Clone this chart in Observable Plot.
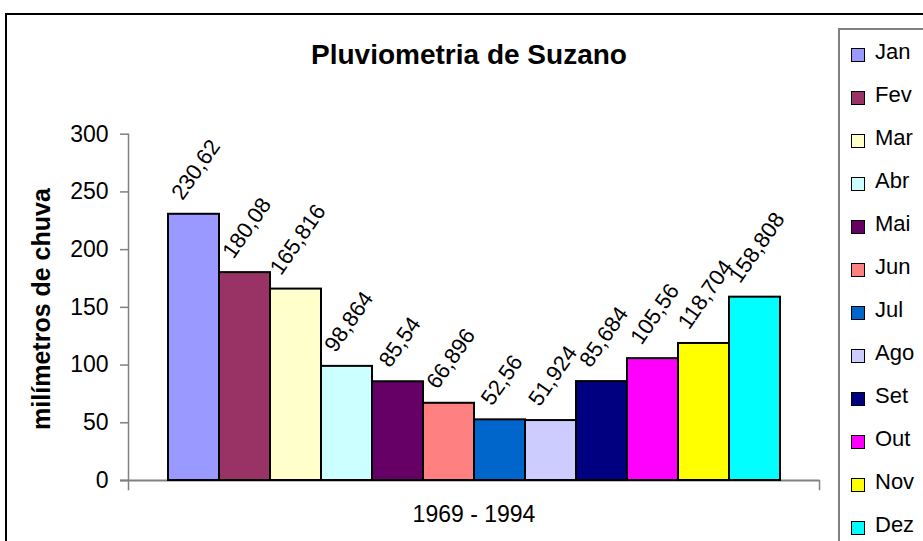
<!DOCTYPE html>
<html><head><meta charset="utf-8">
<script src="https://cdn.jsdelivr.net/npm/d3@7"></script>
<script src="https://cdn.jsdelivr.net/npm/@observablehq/plot@0.6"></script>
<style>
body{margin:0;background:#fff;font-family:Arial,"Liberation Sans",sans-serif;}
#wrap{position:relative;width:923px;height:541px;overflow:hidden;background:#fff}
#border{position:absolute;left:5px;top:13px;width:1000px;height:1000px;border:2px solid #000;}
#title{position:absolute;left:169px;width:600px;top:38px;text-align:center;font-weight:bold;font-size:28px;line-height:34px}
#ytitle{position:absolute;left:41px;top:309px;transform:translate(-50%,-50%) rotate(-90deg);font-weight:bold;font-size:25px;white-space:nowrap}
#chart{position:absolute;left:0;top:0}
#legend{position:absolute;left:838px;top:28px;width:200px;height:700px;border:2px solid #808080;background:#fff}
.item{height:43px;display:flex;align-items:center;font-size:22px}
.sw{width:12px;height:12px;border:1.5px solid #000;margin-left:11px;margin-right:10px;margin-top:6px;box-sizing:content-box}
</style></head>
<body>
<div id="wrap">
  <div id="border"></div>
  <div id="chart"></div>
  <div id="title"></div>
  <div id="ytitle"></div>
  <div id="legend"></div>
</div>
<script>
const months = ["Jan","Fev","Mar","Abr","Mai","Jun","Jul","Ago","Set","Out","Nov","Dez"];
const values = [230.62,180.08,165.816,98.864,85.54,66.896,52.56,51.924,85.684,105.56,118.704,158.808];
const colors = ["#9999FF","#993366","#FFFFCC","#CCFFFF","#660066","#FF8080","#0066CC","#CCCCFF","#000080","#FF00FF","#FFFF00","#00FFFF"];
const yTicks = [0,50,100,150,200,250,300];
const xCategory = "1969 - 1994";
const titleText = "Pluviometria de Suzano";
const yTitle = "milímetros de chuva";

const data = months.map((m,i)=>({month:m,value:values[i],label:String(values[i]).replace(".",",")}));

const W=923,H=541,mL=128,mR=104,mT=133.7,mB=61;
const fontSize=22, tickFont=23, angle=55;
function labelDx(s){
  const em=[...s].reduce((a,c)=>a+(c===","?0.278:0.556),0);
  return 2 - em*fontSize/2*Math.cos(angle*Math.PI/180);
}
const groups = d3.group(data, d=>d.label.length);
const labelMarks = Array.from(groups, ([n, arr]) => Plot.text(arr, {
  x:"month", y:"value", text:"label", rotate:-angle, textAnchor:"start",
  dx: labelDx(arr[0].label), dy:-17, fontSize, fill:"black"
}));

const chart = Plot.plot({
  width:W, height:H, marginLeft:mL, marginRight:mR, marginTop:mT, marginBottom:mB,
  style:{fontFamily:"Arial, 'Liberation Sans', sans-serif", color:"black", background:"transparent", overflow:"visible"},
  x:{type:"band", domain:months, padding:0, insetLeft:38, insetRight:38, axis:null},
  y:{domain:[0,300], axis:null},
  color:{domain:months, range:colors},
  marks:[
    Plot.ruleY([0], {stroke:"#808080", strokeWidth:2, insetLeft:-8}),
    Plot.frame({anchor:"left", stroke:"#808080", strokeWidth:1.5, insetBottom:-9}),
    Plot.frame({anchor:"right", stroke:"#808080", strokeWidth:1.5, insetTop:H-mT-mB, insetBottom:-9}),
    Plot.axisY(yTicks, {tickSize:8, tickPadding:12, fontSize:tickFont, stroke:"#808080", strokeWidth:1.5, fill:"black", label:null}),
    Plot.barY(data, {x:"month", y:"value", fill:"month", stroke:"black", strokeWidth:2}),
    ...labelMarks,
    Plot.text([xCategory], {text:d=>d, frameAnchor:"bottom", dy:41, fontSize:23, fill:"black"})
  ]
});
document.getElementById("chart").appendChild(chart);
document.getElementById("title").textContent = titleText;
document.getElementById("ytitle").textContent = yTitle;
const leg = document.getElementById("legend");
months.forEach((m,i)=>{
  const it=document.createElement("div"); it.className="item";
  const sw=document.createElement("span"); sw.className="sw"; sw.style.background=colors[i];
  const t=document.createElement("span"); t.textContent=m;
  it.appendChild(sw); it.appendChild(t); leg.appendChild(it);
});
</script>
</body></html>
